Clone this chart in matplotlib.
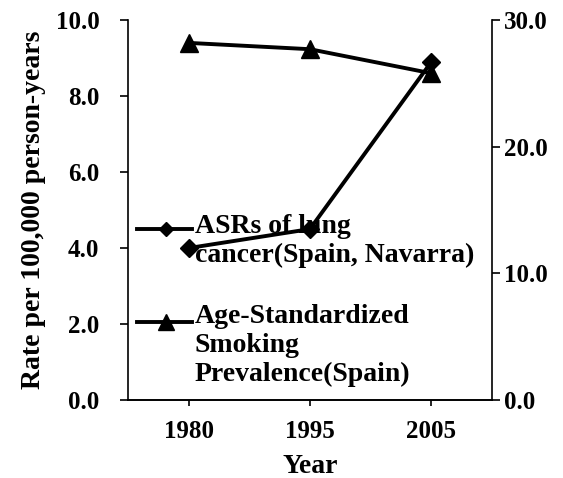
import numpy as np
import matplotlib
matplotlib.use("Agg")
from matplotlib import pyplot as plt
from matplotlib.lines import Line2D

# data
years = ["1980", "1995", "2005"]
asr_lung = [4.0, 4.5, 8.9]          # left axis, rate per 100,000
smoking = [28.2, 27.7, 25.8]        # right axis, prevalence %
left_ticks = [0, 2, 4, 6, 8, 10]
right_ticks = [0, 10, 20, 30]
labels = ["ASRs of lung\ncancer(Spain, Navarra)",
          "Age-Standardized\nSmoking\nPrevalence(Spain)"]

plt.rcParams["font.family"] = ["Liberation Serif", "DejaVu Serif"]
plt.rcParams["font.weight"] = "bold"

fig = plt.figure(figsize=(5.63, 4.78), dpi=100)
ax1 = fig.add_axes([0.227, 0.163, 0.647, 0.795])
ax2 = ax1.twinx()

x = np.arange(len(years))
ax1.plot(x, asr_lung, color="black", lw=2.8, marker="D", ms=9)
ax2.plot(x, smoking, color="black", lw=2.8, marker="^", ms=13)

ax1.set_xlim(-0.5, 2.5)
ax1.set_ylim(0, 10)
ax2.set_ylim(0, 30)
ax1.set_xticks(x)
ax1.set_xticklabels(years, fontsize=18)
ax1.set_yticks(left_ticks)
ax1.set_yticklabels(["%.1f" % v for v in left_ticks], fontsize=18)
ax2.set_yticks(right_ticks)
ax2.set_yticklabels(["%.1f" % v for v in right_ticks], fontsize=18)

for ax in (ax1, ax2):
    ax.spines["top"].set_visible(False)
    for s in ax.spines.values():
        s.set_linewidth(1.2)
ax1.spines["right"].set_visible(False)
ax2.spines["left"].set_visible(False)
ax1.tick_params(axis="x", direction="out", length=4, width=1.2, pad=10)
ax1.tick_params(axis="y", direction="out", length=5.5, width=1.2, pad=15)
ax2.tick_params(axis="y", direction="out", length=5.5, width=1.2, pad=3)

ax1.set_xlabel("Year", fontsize=20, fontweight="bold", labelpad=8)
ax1.set_ylabel("Rate per 100,000 person-years", fontsize=20, fontweight="bold", labelpad=7)

# legend drawn by hand so the key sits next to the first line of each label
keys = [dict(marker="D", ms=7), dict(marker="^", ms=11)]
key_y = [0.45, 0.205]
text_top = [0.489, 0.253]
for lab, k, ky, ty in zip(labels, keys, key_y, text_top):
    ax1.add_line(Line2D([0.025, 0.176], [ky, ky], transform=ax1.transAxes,
                        color="black", lw=2.8, clip_on=False))
    ax1.add_line(Line2D([0.105], [ky], transform=ax1.transAxes, color="black",
                        lw=0, marker=k["marker"], ms=k["ms"], clip_on=False))
    ax1.text(0.184, ty, lab, transform=ax1.transAxes, fontsize=20,
             fontweight="bold", ha="left", va="top", linespacing=1.2)

fig.savefig("out.png", dpi=100)
